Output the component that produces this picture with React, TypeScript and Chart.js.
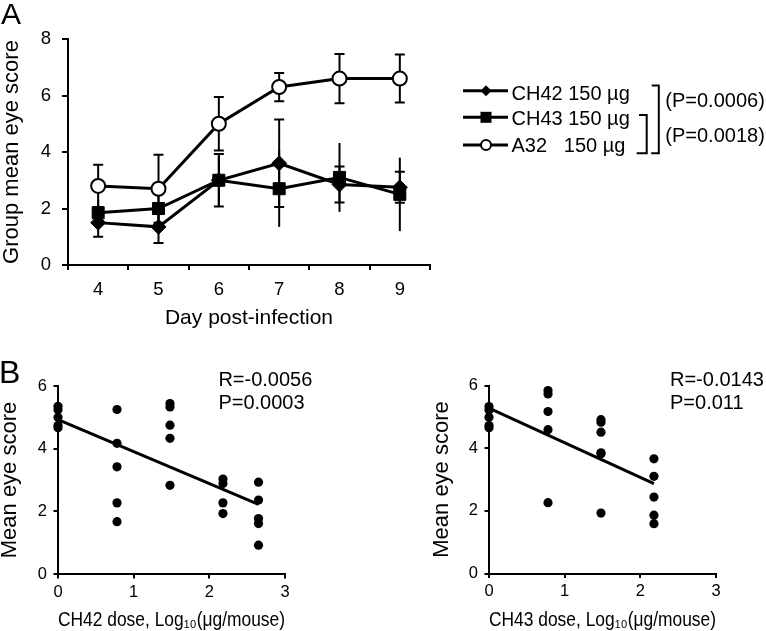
import React, { useEffect, useRef } from 'react';
import { Chart, registerables } from 'chart.js';

Chart.register(...registerables);

const FONT = '"Liberation Sans", Arial, Helvetica, sans-serif';
Chart.defaults.font.family = FONT;
Chart.defaults.color = '#000';

// ---------- Panel A data ----------
const days = ['4', '5', '6', '7', '8', '9'];
const ch42Mean = [1.5, 1.35, 3.0, 3.6, 2.85, 2.75];
const ch42Err = [0.5, 0.57, 0.93, 1.55, 0.64, 0.55];
const ch43Mean = [1.85, 2.0, 3.0, 2.7, 3.1, 2.5];
const ch43Err = [0.45, 0.5, 0.9, 1.35, 1.22, 1.3];
const a32Mean = [2.8, 2.7, 5.0, 6.3, 6.6, 6.6];
const a32Err = [0.75, 1.2, 0.95, 0.5, 0.87, 0.85];

// ---------- Panel B data ----------
const ch42Doses = [0, 0.78, 1.48, 2.18, 2.65];
const ch42Scores = [
  [5.35, 5.24, 5.0, 4.74, 4.67],
  [5.25, 4.17, 3.42, 2.27, 1.67],
  [5.44, 5.33, 4.75, 4.33, 2.83],
  [3.03, 2.89, 2.27, 1.93],
  [2.93, 2.36, 1.77, 1.61, 0.92],
];
const ch42FitX = [0, 2.65];
const ch42FitY = [4.93, 2.22];

const ch43Doses = [0, 0.78, 1.48, 2.18];
const ch43Scores = [
  [5.33, 5.22, 4.99, 4.72, 4.65],
  [5.84, 5.73, 5.17, 4.59, 2.26],
  [4.91, 4.83, 4.51, 3.85, 3.82, 1.93],
  [3.66, 3.1, 2.44, 1.86, 1.59],
];
const ch43FitX = [0, 2.18];
const ch43FitY = [5.28, 2.87];

const errorBarPlugin = {
  id: 'errorBars',
  beforeDatasetsDraw(chart: any) {
    const { ctx } = chart;
    const xs = chart.scales.x;
    const ys = chart.scales.y;
    ctx.save();
    ctx.strokeStyle = '#000';
    ctx.lineWidth = 2;
    chart.data.datasets.forEach((ds: any) => {
      const errs: number[] = ds.errors || [];
      ds.data.forEach((v: number, i: number) => {
        const e = errs[i];
        if (e == null) return;
        const px = xs.getPixelForValue(i);
        const top = ys.getPixelForValue(v + e);
        const bot = ys.getPixelForValue(v - e);
        ctx.beginPath();
        ctx.moveTo(px, top);
        ctx.lineTo(px, bot);
        if (ds.caps) {
          ctx.moveTo(px - 5, top);
          ctx.lineTo(px + 5, top);
          ctx.moveTo(px - 5, bot);
          ctx.lineTo(px + 5, bot);
        }
        ctx.stroke();
      });
    });
    ctx.restore();
  },
};

function axisGrid(tickLength: number) {
  return {
    drawOnChartArea: false,
    drawTicks: true,
    tickLength,
    color: '#000',
    tickColor: '#000',
    tickWidth: 2,
    lineWidth: 2,
  };
}
const axisBorder = { display: true, color: '#000', width: 2 };

function ChartA() {
  const ref = useRef<HTMLCanvasElement>(null);
  useEffect(() => {
    const common = {
      borderColor: '#000',
      borderWidth: 3,
      pointBorderColor: '#000',
      tension: 0,
      fill: false,
      clip: false as any,
    };
    const chart = new Chart(ref.current!, {
      type: 'line',
      data: {
        labels: days,
        datasets: [
          {
            ...common,
            label: 'CH42 150 µg',
            data: ch42Mean,
            errors: ch42Err,
            caps: true,
            pointStyle: 'rectRot',
            pointRadius: 7.5,
            pointBackgroundColor: '#000',
            pointBorderWidth: 1,
            order: 3,
          } as any,
          {
            ...common,
            label: 'CH43 150 µg',
            data: ch43Mean,
            errors: ch43Err,
            caps: false,
            pointStyle: 'rect',
            pointRadius: 8.5,
            pointBackgroundColor: '#000',
            pointBorderWidth: 1,
            order: 2,
          } as any,
          {
            ...common,
            label: 'A32 150 µg',
            data: a32Mean,
            errors: a32Err,
            caps: true,
            pointStyle: 'circle',
            pointRadius: 7,
            pointBackgroundColor: '#fff',
            pointBorderWidth: 2,
            order: 1,
          } as any,
        ],
      },
      options: {
        responsive: false,
        animation: false,
        layout: { padding: { left: 0, top: 39, right: 20, bottom: 0 } },
        plugins: { legend: { display: false }, tooltip: { enabled: false } },
        scales: {
          x: {
            type: 'category',
            offset: true,
            grid: { ...axisGrid(5), offset: true },
            border: axisBorder,
            ticks: { color: '#000', font: { size: 18.5 }, padding: 9, autoSkip: false, maxRotation: 0 },
            title: {
              display: true,
              text: 'Day post-infection',
              color: '#000',
              font: { size: 21, lineHeight: 1.2 },
              padding: { top: 0, bottom: 9.4 },
            },
            afterFit: (s: any) => {
              s.height = 75;
            },
          },
          y: {
            min: 0,
            max: 8,
            grid: axisGrid(6),
            border: axisBorder,
            ticks: { stepSize: 2, color: '#000', font: { size: 18.5 }, padding: 11 },
            title: {
              display: true,
              text: 'Group mean eye score',
              color: '#000',
              font: { size: 22, lineHeight: 1 },
              padding: { top: 1, bottom: 0 },
            },
            afterFit: (s: any) => {
              s.width = 68;
            },
          },
        },
      } as any,
      plugins: [errorBarPlugin],
    });
    return () => chart.destroy();
  }, []);
  return (
    <canvas
      ref={ref}
      width={450}
      height={340}
      style={{ position: 'absolute', left: 0, top: 0, width: 450, height: 340 }}
    />
  );
}

interface BProps {
  left: number;
  width: number;
  padTop: number;
  padRight: number;
  yWidth: number;
  xHeight: number;
  doses: number[];
  scores: number[][];
  fitX: number[];
  fitY: number[];
  xTitle: string;
  yTitleLineHeight: number;
  yTitlePad: number;
}

function ChartB(p: BProps) {
  const ref = useRef<HTMLCanvasElement>(null);
  useEffect(() => {
    const pts: { x: number; y: number }[] = [];
    p.doses.forEach((d, i) => p.scores[i].forEach((s) => pts.push({ x: d, y: s })));
    const fit = p.fitX.map((x, i) => ({ x, y: p.fitY[i] }));
    const chart = new Chart(ref.current!, {
      type: 'scatter',
      data: {
        datasets: [
          {
            data: pts,
            pointRadius: 4.6,
            pointBackgroundColor: '#000',
            pointBorderColor: '#000',
            pointBorderWidth: 0,
            clip: false,
            order: 1,
          } as any,
          {
            data: fit,
            showLine: true,
            borderColor: '#000',
            borderWidth: 3,
            pointRadius: 0,
            clip: false,
            order: 2,
          } as any,
        ],
      },
      options: {
        responsive: false,
        animation: false,
        layout: { padding: { left: 0, top: p.padTop, right: p.padRight, bottom: 0 } },
        plugins: { legend: { display: false }, tooltip: { enabled: false } },
        scales: {
          x: {
            type: 'linear',
            min: 0,
            max: 3,
            grid: axisGrid(4.5),
            border: axisBorder,
            ticks: { stepSize: 1, color: '#000', font: { size: 16.5 }, padding: 4 },
            title: {
              display: true,
              text: p.xTitle,
              color: '#000',
              font: { size: 20, lineHeight: 1.1 },
              padding: { top: 0, bottom: 0 },
            },
            afterFit: (s: any) => {
              s.height = p.xHeight;
            },
          },
          y: {
            min: 0,
            max: 6,
            grid: axisGrid(4.5),
            border: axisBorder,
            ticks: { stepSize: 2, color: '#000', font: { size: 16.5 }, padding: 6.5 },
            title: {
              display: true,
              text: 'Mean eye score',
              color: '#000',
              font: { size: 22, lineHeight: p.yTitleLineHeight },
              padding: { top: p.yTitlePad, bottom: 0 },
            },
            afterFit: (s: any) => {
              s.width = p.yWidth;
            },
          },
        },
      } as any,
    });
    return () => chart.destroy();
  }, []);
  return (
    <canvas
      ref={ref}
      width={p.width}
      height={291}
      style={{ position: 'absolute', left: p.left, top: 340, width: p.width, height: 291 }}
    />
  );
}

function Txt(props: { x: number; cy: number; fs: number; children: React.ReactNode }) {
  const { x, cy, fs } = props;
  return (
    <div
      style={{
        position: 'absolute',
        left: x,
        top: cy - 0.4885 * fs,
        fontSize: fs,
        lineHeight: `${fs}px`,
        whiteSpace: 'pre',
        fontFamily: FONT,
        color: '#000',
      }}
    >
      {props.children}
    </div>
  );
}

export default function App() {
  return (
    <div
      style={{
        position: 'absolute',
        left: 0,
        top: 0,
        width: 766,
        height: 631,
        background: '#fff',
        overflow: 'hidden',
        fontFamily: FONT,
      }}
    >
      <ChartA />
      <ChartB
        left={0}
        width={330}
        padTop={46}
        padRight={45}
        yWidth={58}
        xHeight={57}
        doses={ch42Doses}
        scores={ch42Scores}
        fitX={ch42FitX}
        fitY={ch42FitY}
        xTitle="CH42 dose, Log₁₀(μg/mouse)"
        yTitleLineHeight={0.9}
        yTitlePad={0}
      />
      <ChartB
        left={430}
        width={336}
        padTop={45.5}
        padRight={50}
        yWidth={59}
        xHeight={57.5}
        doses={ch43Doses}
        scores={ch43Scores}
        fitX={ch43FitX}
        fitY={ch43FitY}
        xTitle="CH43 dose, Log₁₀(μg/mouse)"
        yTitleLineHeight={1}
        yTitlePad={0.5}
      />

      {/* Panel letters */}
      <Txt x={1} cy={14} fs={30}>A</Txt>
      <Txt x={-1} cy={371.7} fs={32}>B</Txt>

      {/* Legend for panel A */}
      <svg
        width={766}
        height={631}
        style={{ position: 'absolute', left: 0, top: 0, pointerEvents: 'none' }}
      >
        <line x1={463} y1={90.7} x2={508} y2={90.7} stroke="#000" strokeWidth={3} />
        <polygon points="480.5,90.7 486,85.2 491.5,90.7 486,96.2" fill="#000" />
        <line x1={463} y1={117.3} x2={508} y2={117.3} stroke="#000" strokeWidth={3} />
        <rect x={480.5} y={111.8} width={11} height={11} fill="#000" />
        <line x1={463} y1={145} x2={508} y2={145} stroke="#000" strokeWidth={3} />
        <circle cx={486} cy={145} r={5} fill="#fff" stroke="#000" strokeWidth={2} />
        <polyline
          points="639,115 646.7,115 646.7,153.3 636.7,153.3"
          fill="none"
          stroke="#000"
          strokeWidth={2}
        />
        <polyline
          points="651.7,85.5 658.8,85.5 658.8,153.3 651.2,153.3"
          fill="none"
          stroke="#000"
          strokeWidth={2}
        />
      </svg>
      <Txt x={511.5} cy={92.5} fs={20}>CH42 150 µg</Txt>
      <Txt x={511.5} cy={117.5} fs={20}>CH43 150 µg</Txt>
      <Txt x={511.5} cy={144.5} fs={20}>A32   150 µg</Txt>
      <Txt x={665.3} cy={99.5} fs={20}>(P=0.0006)</Txt>
      <Txt x={665.3} cy={135} fs={20}>(P=0.0018)</Txt>

      {/* Panel B statistics */}
      <Txt x={218.4} cy={378.7} fs={20}>R=-0.0056</Txt>
      <Txt x={218.4} cy={402} fs={20}>P=0.0003</Txt>
      <Txt x={670} cy={379} fs={20}>R=-0.0143</Txt>
      <Txt x={670} cy={401.5} fs={20}>P=0.011</Txt>
    </div>
  );
}
